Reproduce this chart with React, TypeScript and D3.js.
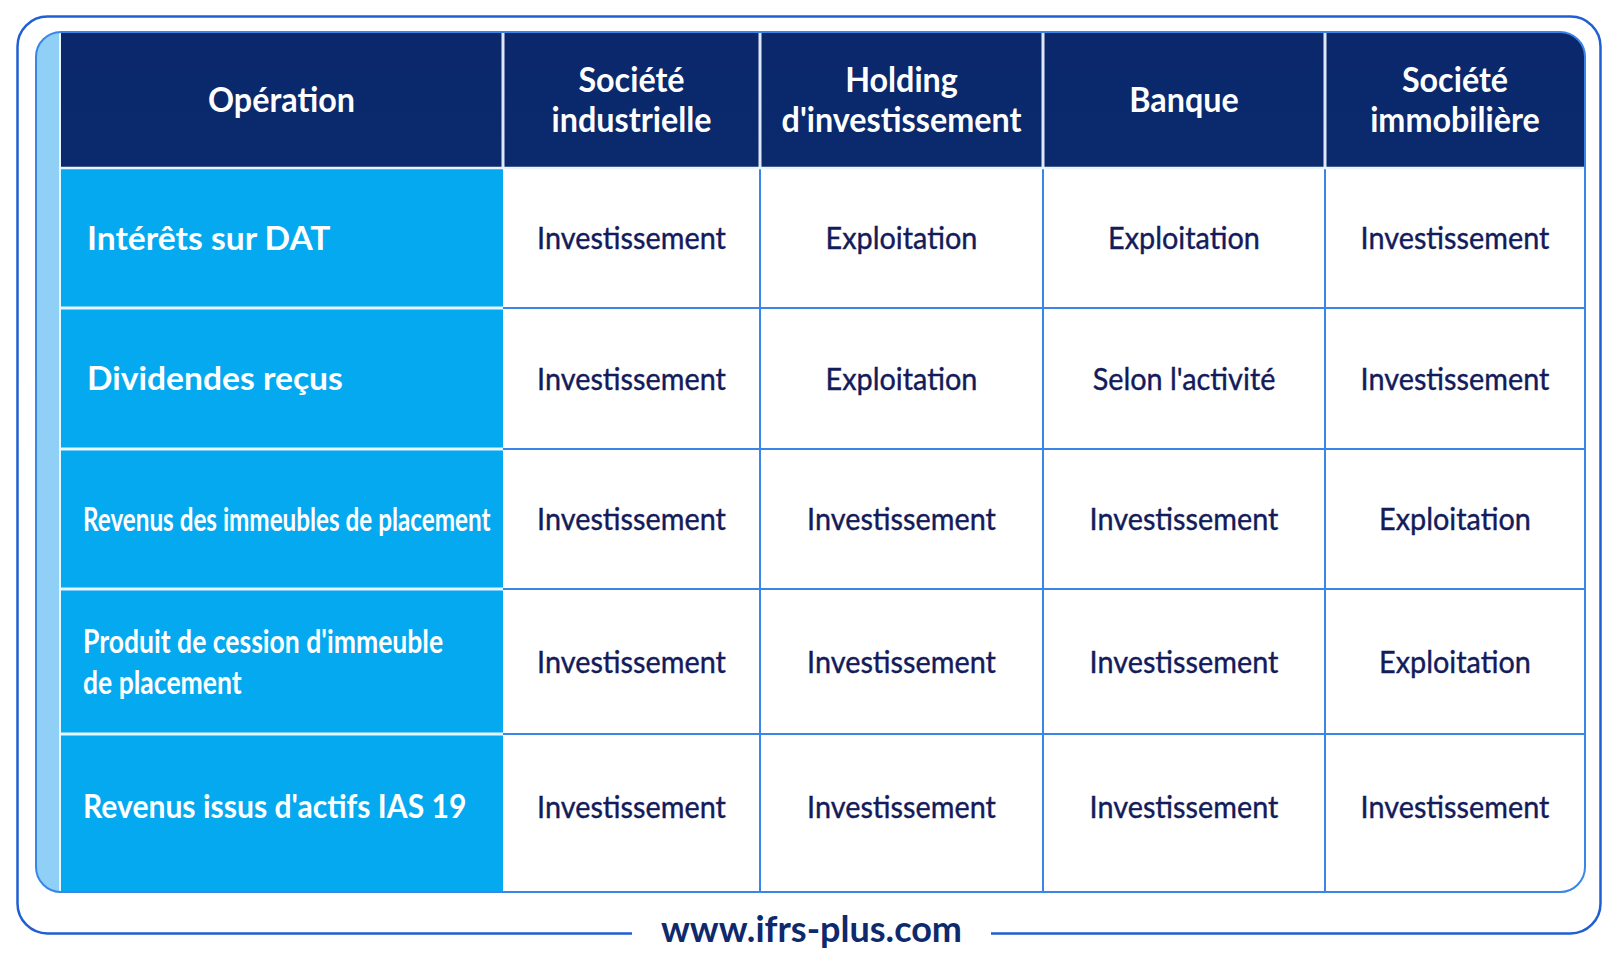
import React from 'react'
import { scaleLinear, cumsum, range } from 'd3'

// header lines per column
const headers: string[][] = [
  ['Opération'],
  ['Société', 'industrielle'],
  ['Holding', "d'investissement"],
  ['Banque'],
  ['Société', 'immobilière']
]

const operations: string[][] = [
  ['Intérêts sur DAT'],
  ['Dividendes reçus'],
  ['Revenus des immeubles de placement'],
  ["Produit de cession d'immeuble", 'de placement'],
  ["Revenus issus d'actifs IAS 19"]
]

const industrielle = ['Investissement', 'Investissement', 'Investissement', 'Investissement', 'Investissement']
const holding = ['Exploitation', 'Exploitation', 'Investissement', 'Investissement', 'Investissement']
const banque = ['Exploitation', "Selon l'activité", 'Investissement', 'Investissement', 'Investissement']
const immobiliere = ['Investissement', 'Investissement', 'Exploitation', 'Exploitation', 'Investissement']

const footer = 'www.ifrs-plus.com'

const series = [industrielle, holding, banque, immobiliere]

// layout
const W = 1619
const H = 971
const TABLE = { left: 36, top: 32, strip: 24, right: 1585, bottom: 892, r: 25 }
const colWidths = [443, 257, 283, 282, 260]
const rowHeights = [136, 140, 141, 140, 145, 158]
// label look per operation row: horizontal squeeze and left indent
const labelSqueeze = [1.05, 1.05, 0.758, 0.83, 0.94]
const labelIndent = [27, 27, 23, 23, 23]

const NAVY = '#0b2a6e'
const CYAN = '#04a9ef'
const STRIP = '#90d0f6'
const GRID = '#3a86e8'
const BORDER = '#1f5fd3'
const INK = '#131b5a'
const FONT = 'Lato, "Open Sans", sans-serif'

const colEdges = [0, ...cumsum(colWidths)].map((v) => TABLE.left + TABLE.strip + v)
const rowEdges = [0, ...cumsum(rowHeights)].map((v) => TABLE.top + v)

const x = scaleLinear().domain(range(colEdges.length)).range(colEdges)
const y = scaleLinear().domain(range(rowEdges.length)).range(rowEdges)

const rowCenter = (r: number) => {
  const top = y(r + 1)
  const h = y(r + 2) - top
  return top + Math.min(h, 145) / 2
}

export default function App() {
  const headerSize = 34
  const labelSize = 32
  const cellSize = 31
  const tw = TABLE.right - TABLE.left
  const th = TABLE.bottom - TABLE.top

  return (
    <svg width={W} height={H} style={{ position: 'absolute', left: 0, top: 0, background: '#fff' }} fontFamily={FONT}>
      <defs>
        <clipPath id="tableClip">
          <rect x={TABLE.left} y={TABLE.top} width={tw} height={th} rx={TABLE.r} />
        </clipPath>
        <linearGradient id="navyGrad" x1={0} x2={0} y1={0} y2={1}>
          <stop offset="0%" stopColor="#0a286b" />
          <stop offset="100%" stopColor={NAVY} />
        </linearGradient>
      </defs>

      {/* outer frame */}
      <rect x={17.5} y={16.5} width={1583} height={917} rx={30} fill="none" stroke={BORDER} strokeWidth={2.5} />
      <rect x={632} y={925} width={359} height={20} fill="#fff" />
      <text x={811.5} y={942} textAnchor="middle" fontSize={36} fontWeight={700} fill="#0e2a6c">
        {footer}
      </text>

      <g clipPath="url(#tableClip)">
        <rect x={TABLE.left} y={TABLE.top} width={tw} height={th} fill="#fff" />
        <rect x={TABLE.left} y={TABLE.top} width={TABLE.strip} height={th} fill={STRIP} />
        <rect x={x(0)} y={y(0)} width={TABLE.right - x(0)} height={y(1) - y(0)} fill="url(#navyGrad)" />
        <rect x={x(0)} y={y(1)} width={x(1) - x(0)} height={TABLE.bottom - y(1)} fill={CYAN} />

        {/* body grid */}
        {range(2, rowEdges.length - 1).map((r) => (
          <g key={`h${r}`}>
            <line x1={x(0)} x2={x(1)} y1={y(r)} y2={y(r)} stroke="#e8f6ff" strokeWidth={3} />
            <line x1={x(1)} x2={TABLE.right} y1={y(r)} y2={y(r)} stroke={GRID} strokeWidth={2} />
          </g>
        ))}
        {range(2, colEdges.length - 1).map((c) => (
          <g key={`v${c}`}>
            <line x1={x(c)} x2={x(c)} y1={y(0)} y2={y(1)} stroke="#dfe8f8" strokeWidth={3} />
            <line x1={x(c)} x2={x(c)} y1={y(1)} y2={TABLE.bottom} stroke={GRID} strokeWidth={2} />
          </g>
        ))}
        <line x1={x(1)} x2={x(1)} y1={y(0)} y2={y(1)} stroke="#dfe8f8" strokeWidth={3} />
        <line x1={x(0)} x2={TABLE.right} y1={y(1)} y2={y(1)} stroke="#e8f4ff" strokeWidth={2.5} />
        <line x1={x(0)} x2={x(0)} y1={TABLE.top} y2={TABLE.bottom} stroke="#e8f6ff" strokeWidth={2} />
      </g>
      <rect x={TABLE.left} y={TABLE.top} width={tw} height={th} rx={TABLE.r} fill="none" stroke={GRID} strokeWidth={2} />

      {/* header labels */}
      {headers.map((lines, c) =>
        lines.map((t, i) => {
          const cy = (y(0) + y(1)) / 2 + (i - (lines.length - 1) / 2) * 40
          return (
            <text
              key={`hd${c}${i}`}
              transform={`translate(${x(c + 0.5)},${cy + headerSize * 0.36}) scale(0.95,1)`}
              textAnchor="middle"
              fontSize={headerSize}
              fontWeight={700}
              fill="#fff"
            >
              {t}
            </text>
          )
        })
      )}

      {/* operation labels */}
      {operations.map((lines, r) =>
        lines.map((t, i) => {
          const cy = rowCenter(r) + (i - (lines.length - 1) / 2) * 41
          return (
            <text
              key={`op${r}${i}`}
              transform={`translate(${x(0) + labelIndent[r]},${cy + labelSize * 0.36}) scale(${labelSqueeze[r]},1)`}
              fontSize={labelSize}
              fontWeight={700}
              fill="#fff"
            >
              {t}
            </text>
          )
        })
      )}

      {/* cell values */}
      {series.map((vals, c) =>
        vals.map((v, r) => (
          <text
            key={`c${c}${r}`}
            transform={`translate(${x(c + 1.5)},${rowCenter(r) + cellSize * 0.36}) scale(0.93,1)`}
            textAnchor="middle"
            fontSize={cellSize}
            fill={INK}
            stroke={INK}
            strokeWidth={0.4}
          >
            {v}
          </text>
        ))
      )}
    </svg>
  )
}
